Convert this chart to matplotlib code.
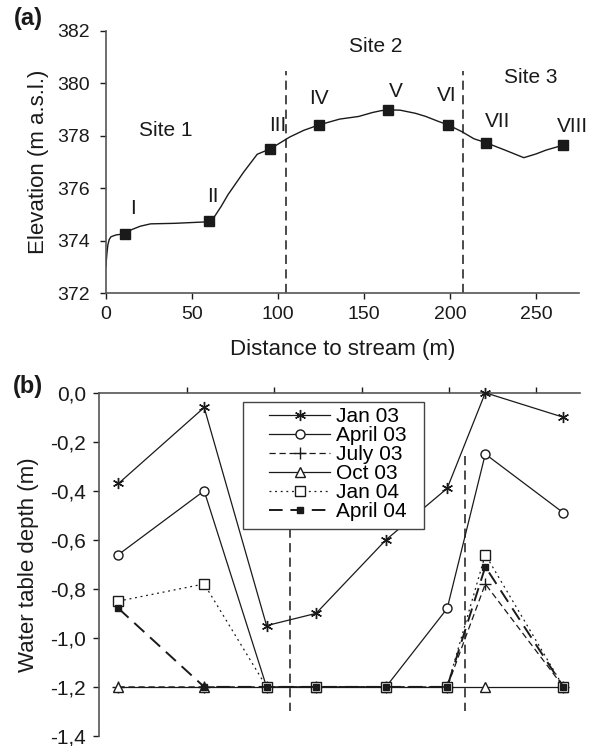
import matplotlib
matplotlib.use('Agg')
import matplotlib.pyplot as plt
from matplotlib.patches import Rectangle

plt.rcParams['font.family'] = ['Liberation Sans', 'DejaVu Sans']

# (a) elevation profile
profile_x = [0, 0.6, 1.2, 2, 3, 6, 11, 15, 20, 26, 40, 60, 63, 67, 71, 74.4, 80, 88, 95.7,
             107, 115, 124, 136, 147, 155, 160, 164, 171, 180, 186, 193, 199, 207, 214, 221,
             232, 243, 250, 256, 265.5]
profile_y = [373.0, 373.5, 373.85, 374.05, 374.15, 374.22, 374.26, 374.42, 374.55, 374.64, 374.66,
             374.72, 374.9, 375.3, 375.75, 376.07, 376.6, 377.29, 377.5,
             377.95, 378.2, 378.41, 378.63, 378.73, 378.88, 378.95, 378.98, 378.97, 378.85, 378.73,
             378.55, 378.41, 378.15, 377.88, 377.73, 377.45, 377.16, 377.3, 377.45, 377.63]
well_names = ['I', 'II', 'III', 'IV', 'V', 'VI', 'VII', 'VIII']
well_x = [11, 60, 95.7, 124, 164, 199, 220.8, 265.5]
well_y = [374.26, 374.73, 377.5, 378.41, 378.98, 378.41, 377.73, 377.63]
site_names = ['Site 1', 'Site 2', 'Site 3']
site_bounds_a = [105, 207.7]

# (b) water table depth at wells I..VIII
site_bounds_b = [109, 209]
months = ['Jan 03', 'April 03', 'July 03', 'Oct 03', 'Jan 04', 'April 04']
jan03 = [-0.37, -0.06, -0.95, -0.90, -0.60, -0.39, 0.0, -0.10]
apr03 = [-0.66, -0.40, -1.2, -1.2, -1.2, -0.88, -0.25, -0.49]
jul03 = [-1.2, -1.2, -1.2, -1.2, -1.2, -1.2, -0.78, -1.2]
oct03 = [-1.2, -1.2, -1.2, -1.2, -1.2, -1.2, -1.2, -1.2]
jan04 = [-0.85, -0.78, -1.2, -1.2, -1.2, -1.2, -0.66, -1.2]
apr04 = [-0.88, -1.2, -1.2, -1.2, -1.2, -1.2, -0.71, -1.2]
depth_ticks = [0, -0.2, -0.4, -0.6, -0.8, -1.0, -1.2, -1.4]

ink = '#1a1a1a'
spine = '#555555'

fig = plt.figure(figsize=(5.98, 7.46), dpi=100)

# ---------- panel (a)
ax1 = fig.add_axes([0.177, 0.607, 0.791, 0.352])
ax1.plot(profile_x, profile_y, color=ink, lw=1.0)
ax1.plot(well_x, well_y, 's', color=ink, ms=7, ls='none')
for b in site_bounds_a:
    ax1.plot([b, b], [372, 380.47], color=ink, lw=1.1, ls=(0, (6, 3.5)))

label_off = [(4.5, 0.95), (2, 0.95), (4, 0.9), (0, 1.0), (4.5, 0.7), (-1, 1.1), (7, 0.8), (5.5, 0.7)]
for name, x, y, (dx, dy) in zip(well_names, well_x, well_y, label_off):
    ax1.text(x + dx, y + dy, name, ha='center', va='center', fontsize=15, color=ink)
ax1.text(34.8, 378.2, site_names[0], ha='center', va='center', fontsize=15, color=ink)
ax1.text(157, 381.4, site_names[1], ha='center', va='center', fontsize=15, color=ink)
ax1.text(247, 380.2, site_names[2], ha='center', va='center', fontsize=15, color=ink)

ax1.set_xlim(0, 275)
ax1.set_ylim(372, 382)
ax1.set_xticks([0, 50, 100, 150, 200, 250])
ax1.set_yticks([372, 374, 376, 378, 380, 382])
ax1.spines['right'].set_visible(False)
ax1.spines['top'].set_visible(False)
for s in ['left', 'bottom']:
    ax1.spines[s].set_color(spine)
    ax1.spines[s].set_linewidth(1.2)
ax1.tick_params(direction='out', length=4.5, width=1, color=ink, labelsize=14, labelcolor=ink)
ax1.tick_params(axis='y', pad=7)
ax1.tick_params(axis='x', pad=5)
ax1.set_xlabel('Distance to stream (m)', fontsize=16, color=ink, labelpad=11)
ax1.set_ylabel('Elevation (m a.s.l.)', fontsize=16, color=ink, labelpad=6)

# ---------- panel (b)
ax2 = fig.add_axes([0.166, 0.0135, 0.804, 0.46])
for b in site_bounds_b:
    ax2.plot([b, b], [-0.26, -1.3], color=ink, lw=1.1, ls=(0, (6, 3.5)), zorder=1)

series = [jan03, apr03, jul03, oct03, jan04, apr04]
styles = [
    dict(ls='-', marker=(6, 2, 0), ms=8, mfc='none', mew=1.0),
    dict(ls='-', marker='o', ms=6.5, mfc='white', mew=1.0),
    dict(ls=(0, (5, 3)), marker='+', ms=8, mfc='none', mew=1.0),
    dict(ls='-', marker='^', ms=6.5, mfc='white', mew=1.0),
    dict(ls=(0, (1.5, 3)), marker='s', ms=6.5, mfc='white', mew=1.0),
    dict(ls=(0, (7, 4)), marker='s', ms=4, mfc=ink, mew=1.0, lw=1.4),
]
for vals, name, st in zip(series, months, styles):
    st = dict(st)
    lw = st.pop('lw', 0.9)
    ax2.plot(well_x, vals, color=ink, mec=ink, lw=lw, label=name, clip_on=False, zorder=3, **st)

ax2.set_xlim(0, 275)
ax2.set_ylim(-1.4, 0)
ax2.set_xticks([50, 100, 150, 200, 250])
ax2.set_yticks(depth_ticks)
ax2.set_yticklabels([f"{v:.1f}".replace('.', ',').replace('-0,0', '0,0') for v in depth_ticks])
ax2.xaxis.set_ticks_position('top')
ax2.tick_params(axis='x', labeltop=False, labelbottom=False)
ax2.spines['right'].set_visible(False)
ax2.spines['bottom'].set_visible(False)
for s in ['left', 'top']:
    ax2.spines[s].set_color(spine)
    ax2.spines[s].set_linewidth(1.2)
ax2.tick_params(direction='out', length=4.5, width=1, color=ink, labelsize=15, labelcolor=ink)
ax2.tick_params(axis='y', pad=5)
ax2.set_ylabel('Water table depth (m)', fontsize=16, color=ink, labelpad=8)

# legend: own box so the side padding can be wider than the top padding
box = Rectangle((0.298, 0.603), 0.378, 0.369, transform=ax2.transAxes, facecolor='white',
                edgecolor='#444444', lw=1.0, zorder=4)
ax2.add_patch(box)
leg = ax2.legend(loc='upper left', bbox_to_anchor=(0.353, 0.958), borderaxespad=0, borderpad=0,
                 fontsize=15, labelspacing=0.0, handlelength=2.93, handletextpad=0.3,
                 frameon=False)
leg.set_zorder(5)

fig.text(28 / 598, 1 - 18 / 746, '(a)', fontsize=17, fontweight='bold', color=ink,
         ha='center', va='center')
fig.text(28 / 598, 1 - 386 / 746, '(b)', fontsize=17, fontweight='bold', color=ink,
         ha='center', va='center')

fig.savefig('out.png', dpi=100)
